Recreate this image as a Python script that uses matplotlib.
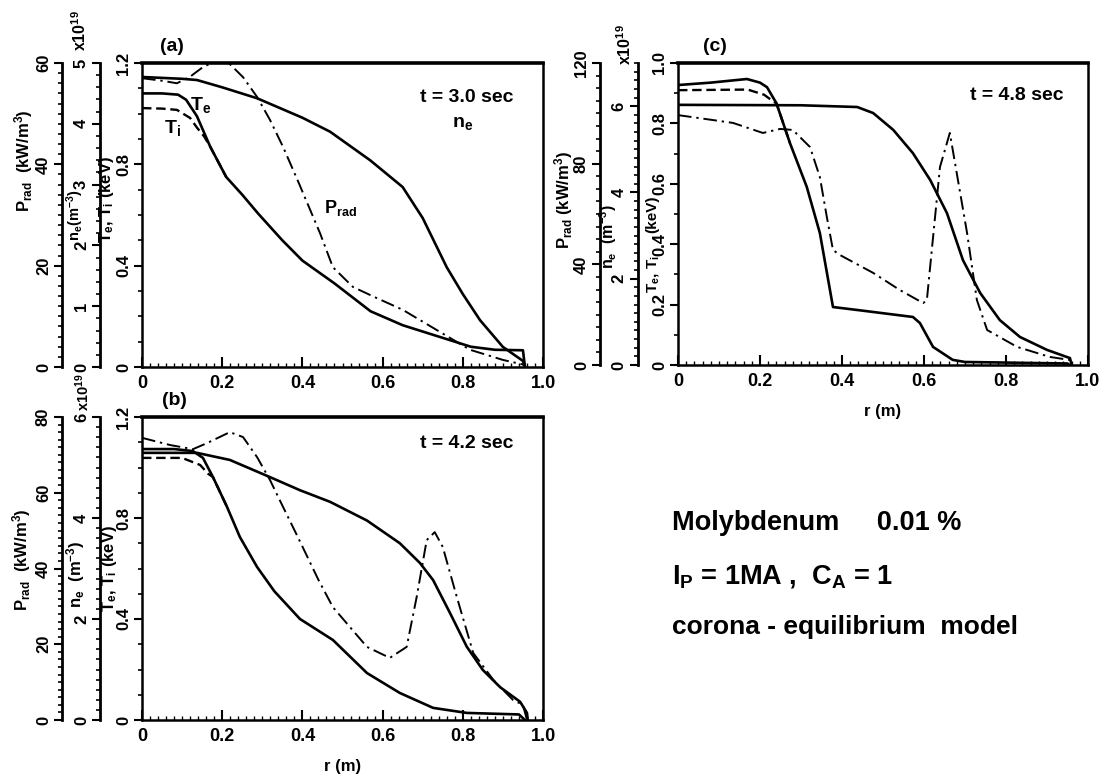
import numpy as np
import matplotlib
matplotlib.use("Agg")
import matplotlib.pyplot as plt
from matplotlib.ticker import MultipleLocator, FixedLocator, FuncFormatter

# ----------------------------
# fonts: Arial-like bold everywhere
# ----------------------------
FONT = "Liberation Sans"
plt.rcParams["font.family"] = [FONT, "DejaVu Sans"]
plt.rcParams["font.weight"] = "bold"
plt.rcParams["mathtext.fontset"] = "custom"
plt.rcParams["mathtext.rm"] = FONT + ":bold"
plt.rcParams["mathtext.bf"] = FONT + ":bold"
plt.rcParams["mathtext.default"] = "bf"

# ----------------------------
# data
# (a) t = 3.0 s
# ----------------------------
r_te_a = [0, 0.05, 0.09, 0.11, 0.137, 0.17, 0.21, 0.25, 0.29, 0.35, 0.40, 0.48, 0.57, 0.65, 0.74, 0.82, 0.88, 0.95, 0.955]
te_a = [1.08, 1.08, 1.075, 1.055, 0.99, 0.87, 0.75, 0.68, 0.605, 0.50, 0.42, 0.33, 0.22, 0.165, 0.12, 0.08, 0.068, 0.066, 0.0]
r_ti_a = [0, 0.05, 0.087, 0.12, 0.137, 0.155, 0.17, 0.21]
ti_a = [1.022, 1.02, 1.015, 0.983, 0.945, 0.91, 0.87, 0.75]
r_ne_a = [0, 0.1, 0.137, 0.2, 0.287, 0.4, 0.469, 0.569, 0.65, 0.70, 0.76, 0.80, 0.843, 0.90, 0.95, 0.955]
ne_a = [4.77, 4.74, 4.72, 4.6, 4.42, 4.1, 3.87, 3.40, 2.96, 2.45, 1.64, 1.2, 0.77, 0.33, 0.1, 0.0]
r_pr_a = [0, 0.05, 0.087, 0.12, 0.152, 0.187, 0.21, 0.252, 0.287, 0.319, 0.352, 0.39, 0.444, 0.476, 0.526, 0.58, 0.65, 0.735, 0.818, 0.90, 0.95, 0.955]
pr_a = [57.0, 56.5, 56.0, 57.3, 59.2, 60.5, 60.5, 57.2, 53.3, 48.8, 43.4, 36.5, 26.4, 19.7, 15.8, 13.8, 11.3, 7.3, 3.4, 1.4, 0.5, 0.0]

# (b) t = 4.2 s
r_te_b = [0, 0.08, 0.127, 0.152, 0.177, 0.212, 0.244, 0.287, 0.33, 0.394, 0.476, 0.561, 0.643, 0.726, 0.81, 0.94, 0.955]
te_b = [1.073, 1.073, 1.065, 1.038, 0.962, 0.844, 0.725, 0.606, 0.51, 0.40, 0.317, 0.186, 0.107, 0.048, 0.028, 0.022, 0.0]
r_ti_b = [0, 0.1, 0.145, 0.165, 0.177, 0.212]
ti_b = [1.038, 1.038, 1.01, 0.975, 0.962, 0.844]
r_ne_b = [0, 0.137, 0.219, 0.319, 0.394, 0.469, 0.561, 0.643, 0.693, 0.726, 0.768, 0.81, 0.85, 0.893, 0.943, 0.96, 0.962]
ne_b = [5.29, 5.29, 5.15, 4.81, 4.55, 4.32, 3.95, 3.5, 3.11, 2.77, 2.12, 1.45, 0.99, 0.65, 0.36, 0.14, 0.0]
r_pr_b = [0, 0.07, 0.127, 0.162, 0.219, 0.252, 0.287, 0.319, 0.352, 0.39, 0.44, 0.476, 0.561, 0.618, 0.66, 0.685, 0.71, 0.73, 0.75, 0.785, 0.826, 0.876, 0.925, 0.95, 0.96]
pr_b = [74.5, 72.6, 71.5, 73.1, 76.0, 74.7, 69.4, 63.4, 56.2, 48.0, 37.0, 29.8, 19.3, 16.4, 19.3, 32.5, 47.5, 49.6, 45.7, 32.5, 17.7, 10.6, 5.3, 4.0, 0.0]

# (c) t = 4.8 s
r_te_c = [0, 0.08, 0.168, 0.20, 0.217, 0.24, 0.273, 0.314, 0.346, 0.378, 0.45, 0.573, 0.59, 0.622, 0.67, 0.70, 0.95, 0.955]
te_c = [0.927, 0.935, 0.947, 0.935, 0.92, 0.867, 0.735, 0.59, 0.437, 0.192, 0.18, 0.159, 0.139, 0.06, 0.017, 0.01, 0.005, 0.0]
r_ti_c = [0, 0.17, 0.21, 0.235, 0.24, 0.273]
ti_c = [0.91, 0.912, 0.895, 0.87, 0.867, 0.735]
r_ne_c = [0, 0.3, 0.437, 0.476, 0.525, 0.573, 0.615, 0.656, 0.695, 0.737, 0.785, 0.834, 0.90, 0.956, 0.96]
ne_c = [6.03, 6.02, 5.98, 5.84, 5.45, 4.91, 4.29, 3.52, 2.43, 1.67, 1.04, 0.65, 0.35, 0.16, 0.0]
r_pr_c = [0, 0.134, 0.207, 0.249, 0.28, 0.322, 0.346, 0.363, 0.378, 0.395, 0.476, 0.541, 0.598, 0.607, 0.639, 0.663, 0.705, 0.729, 0.754, 0.827, 0.907, 0.956, 0.96]
pr_c = [99.3, 96.2, 92.2, 93.8, 93.4, 86.6, 74.7, 58.8, 45.7, 43.7, 36.6, 29.8, 24.6, 25.8, 78.7, 92.2, 52.5, 25.8, 13.9, 7.2, 3.2, 2.0, 0.0]

x_ticks = [0, 0.2, 0.4, 0.6, 0.8, 1.0]


def fmt_dec(v, pos=None):
    return "0" if v == 0 else "%.1f" % v


def fmt_int(v, pos=None):
    return "%d" % round(v)


def style_left(a, major, minor, top, f):
    a.set_ylim(0, top)
    a.yaxis.set_major_locator(FixedLocator(major))
    a.yaxis.set_minor_locator(MultipleLocator(minor))
    a.yaxis.set_major_formatter(FuncFormatter(f))
    a.tick_params(axis="y", which="major", direction="out", length=6, width=1.5,
                  labelsize=12, labelrotation=90, pad=2)
    a.tick_params(axis="y", which="minor", direction="out", length=3, width=1.2)
    for lab in a.get_yticklabels():
        lab.set_verticalalignment("center")


def panel(rect, d, tcfg, ncfg, pcfg, offs, letter, tlabel, tpos, xlabel):
    ax = fig.add_axes(rect)
    ax.set_xlim(0, 1.0)
    ax.xaxis.set_major_locator(FixedLocator(x_ticks))
    ax.xaxis.set_minor_locator(MultipleLocator(0.02))
    ax.xaxis.set_major_formatter(FuncFormatter(fmt_dec))
    ax.tick_params(axis="x", which="major", direction="in", length=7, width=1.5, labelsize=13, pad=6)
    ax.tick_params(axis="x", which="minor", direction="in", length=3, width=1.0)
    for s in ax.spines.values():
        s.set_linewidth(1.8)
    ax.spines["top"].set_linewidth(2.6)
    style_left(ax, *tcfg, fmt_dec)

    ax.plot(d["r_te"], d["te"], color="black", lw=1.9)
    ax.plot(d["r_ti"], d["ti"], color="black", lw=1.7, ls=(0, (4, 2)))

    twins = []
    for off, cfg in zip(offs, [ncfg, pcfg]):
        tw = ax.twinx()
        for k in ["right", "top", "bottom"]:
            tw.spines[k].set_visible(False)
        tw.spines["left"].set_visible(True)
        tw.spines["left"].set_position(("axes", off))
        tw.spines["left"].set_linewidth(2.0)
        tw.yaxis.set_ticks_position("left")
        tw.yaxis.set_label_position("left")
        style_left(tw, *cfg, fmt_int)
        twins.append(tw)
    axn, axp = twins
    axn.plot(d["r_ne"], d["ne"], color="black", lw=1.9)
    axp.plot(d["r_pr"], d["pr"], color="black", lw=1.4, ls=(0, (7, 2.5, 1.2, 2.5)))

    ax.text(letter[0], letter[1], letter[2], transform=ax.transAxes, fontsize=14,
            ha="center", va="center")
    ax.text(tpos[0], tpos[1], tlabel, transform=ax.transAxes, fontsize=14,
            ha="center", va="center")
    if xlabel:
        ax.text(0.5, -0.155, "r (m)", transform=ax.transAxes, fontsize=12,
                ha="center", va="center")
    return ax, axn, axp


def ylab(ax, x, y, s, size=12):
    ax.text(x, y, s, transform=ax.transAxes, rotation=90, fontsize=size,
            ha="center", va="center")


fig = plt.figure(figsize=(11.05, 7.76), dpi=100)

# ---- (a)
ax_a, n_a, p_a = panel(
    [142 / 1105, 1 - 367 / 776, 401 / 1105, 304 / 776],
    dict(r_te=r_te_a, te=te_a, r_ti=r_ti_a, ti=ti_a, r_ne=r_ne_a, ne=ne_a, r_pr=r_pr_a, pr=pr_a),
    ([0, 0.4, 0.8, 1.2], 0.1, 1.2),
    ([0, 1, 2, 3, 4, 5], 0.2, 5),
    ([0, 20, 40, 60], 2, 60),
    (-0.1047, -0.1995),
    (0.075, 1.053, "(a)"), "t = 3.0 sec", (0.81, 0.888), False)
ax_a.text(0.145, 0.862, "T$_e$", transform=ax_a.transAxes, fontsize=14, ha="center", va="center")
ax_a.text(0.077, 0.786, "T$_i$", transform=ax_a.transAxes, fontsize=14, ha="center", va="center")
ax_a.text(0.80, 0.80, "n$_e$", transform=ax_a.transAxes, fontsize=14, ha="center", va="center")
ax_a.text(0.494, 0.523, "P$_{rad}$", transform=ax_a.transAxes, fontsize=13, ha="center", va="center")
ylab(ax_a, -0.295, 0.68, "P$_{rad}$  (kW/m$^3$)")
ylab(ax_a, -0.166, 0.50, "n$_e$(m$^{-3}$)", 10.5)
ylab(ax_a, -0.088, 0.55, "T$_e$, T$_i$ (keV)")
ax_a.text(-0.155, 1.108, "x10$^{19}$", transform=ax_a.transAxes, rotation=90, fontsize=11.5, ha="center", va="center")

# ---- (b)
ax_b, n_b, p_b = panel(
    [142 / 1105, 1 - 720 / 776, 401 / 1105, 303 / 776],
    dict(r_te=r_te_b, te=te_b, r_ti=r_ti_b, ti=ti_b, r_ne=r_ne_b, ne=ne_b, r_pr=r_pr_b, pr=pr_b),
    ([0, 0.4, 0.8, 1.2], 0.1, 1.2),
    ([0, 2, 4, 6], 0.2, 6),
    ([0, 20, 40, 60, 80], 2, 80),
    (-0.1047, -0.1995),
    (0.082, 1.056, "(b)"), "t = 4.2 sec", (0.81, 0.914), True)
ylab(ax_b, -0.30, 0.53, "P$_{rad}$  (kW/m$^3$)")
ylab(ax_b, -0.165, 0.48, "n$_e$  (m$^{-3}$)")
ylab(ax_b, -0.08, 0.50, "T$_e$, T$_i$ (keV)")
ax_b.text(-0.148, 1.083, "x10$^{19}$", transform=ax_b.transAxes, rotation=90, fontsize=10.5, ha="center", va="center")

# ---- (c)
ax_c, n_c, p_c = panel(
    [678 / 1105, 1 - 365 / 776, 410 / 1105, 302 / 776],
    dict(r_te=r_te_c, te=te_c, r_ti=r_ti_c, ti=ti_c, r_ne=r_ne_c, ne=ne_c, r_pr=r_pr_c, pr=pr_c),
    ([0, 0.2, 0.4, 0.6, 0.8, 1.0], 0.1, 1.0),
    ([0, 2, 4, 6], 0.2, 7),
    ([0, 40, 80, 120], 5, 120),
    (-0.0976, -0.190),
    (0.09, 1.053, "(c)"), "t = 4.8 sec", (0.827, 0.894), True)
ylab(ax_c, -0.278, 0.546, "P$_{rad}$ (kW/m$^3$)")
ylab(ax_c, -0.17, 0.425, "n$_e$  (m$^{-3}$)", 11.5)
ylab(ax_c, -0.062, 0.30, "T$_e$, T$_i$", 11)
ylab(ax_c, -0.062, 0.50, "(keV)", 11)
ax_c.text(-0.129, 1.06, "x10$^{19}$", transform=ax_c.transAxes, rotation=90, fontsize=11.5, ha="center", va="center")

# ---- annotation block
fig.text(672 / 1105, 1 - 523 / 776, "Molybdenum     0.01 %", fontsize=19.5, ha="left", va="center")
fig.text(672 / 1105, 1 - 577 / 776, "I$_P$ = 1MA ,  C$_A$ = 1", fontsize=19.5, ha="left", va="center")
fig.text(672 / 1105, 1 - 627 / 776, "corona - equilibrium  model", fontsize=19, ha="left", va="center")

fig.savefig("out.png", dpi=100)
